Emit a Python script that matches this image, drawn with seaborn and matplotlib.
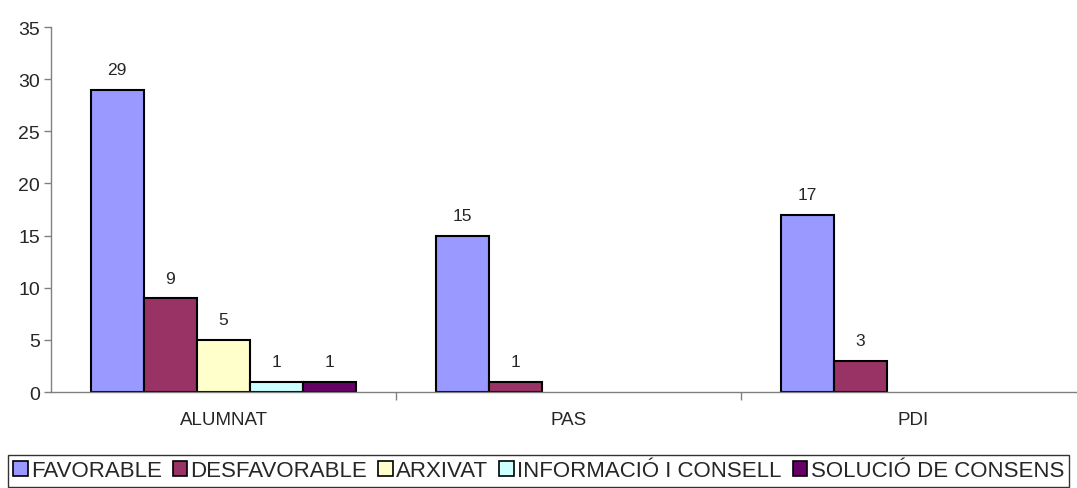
import seaborn as sns
import matplotlib.pyplot as plt
import numpy as np
import pandas as pd

# data
groups = ["ALUMNAT", "PAS", "PDI"]
series = ["FAVORABLE", "DESFAVORABLE", "ARXIVAT", "INFORMACIÓ I CONSELL", "SOLUCIÓ DE CONSENS"]
favorable = [29, 15, 17]
desfavorable = [9, 1, 3]
arxivat = [5, None, None]
informacio = [1, None, None]
solucio = [1, None, None]
colors = ["#9999FF", "#993366", "#FFFFCC", "#CCFFFF", "#660066"]

rows = []
for name, vals in zip(series, [favorable, desfavorable, arxivat, informacio, solucio]):
    for g, v in zip(groups, vals):
        rows.append({"grup": g, "serie": name, "valor": np.nan if v is None else v})
df = pd.DataFrame(rows)

sns.set_style("white")
plt.rcParams['font.family'] = ['Liberation Sans', 'DejaVu Sans']

fig = plt.figure(figsize=(10.77, 4.89), dpi=100)
ax = fig.add_axes([51/1077, 1 - 393/489, 1035/1077, 365/489])

sns.barplot(data=df, x="grup", y="valor", hue="serie", order=groups, hue_order=series,
            palette=colors, width=0.77, edgecolor="black", linewidth=1.5,
            saturation=1, errorbar=None, ax=ax)

for cont in ax.containers:
    labels = ["" if np.isnan(h) else f"{h:.0f}" for h in cont.datavalues]
    ax.bar_label(cont, labels=labels, padding=9, fontsize=12.5)

ax.set_xlim(-0.5, 2.5)
ax.set_ylim(0, 35)
ax.set_yticks(range(0, 36, 5))
ax.set_xlabel("")
ax.set_ylabel("")
ax.tick_params(axis="y", labelsize=14, length=5, width=1, color="#808080", left=True, pad=3)
ax.tick_params(axis="x", labelsize=13.5, length=0, pad=14)
ax.set_xticks([0.5, 1.5], minor=True)
ax.tick_params(axis="x", which="minor", length=6, width=1, color="#808080", bottom=True)
for s in ["top", "right"]:
    ax.spines[s].set_visible(False)
for s in ["left", "bottom"]:
    ax.spines[s].set_color("#808080")
    ax.spines[s].set_linewidth(1)

ax.legend_.remove()
handles = [plt.Rectangle((0, 0), 1, 1, facecolor=c, edgecolor="black", linewidth=1.2) for c in colors]
leg = fig.legend(handles, series, loc="center", bbox_to_anchor=(538.5/1077, 1 - 472/489),
                 ncol=5, fontsize=16, frameon=True, fancybox=False, handlelength=0.65,
                 handleheight=0.65, handletextpad=0.15, columnspacing=0.5, borderpad=0.25,
                 borderaxespad=0)
leg.get_frame().set_edgecolor("black")
leg.get_frame().set_linewidth(1)

plt.savefig("out.png", dpi=100)
